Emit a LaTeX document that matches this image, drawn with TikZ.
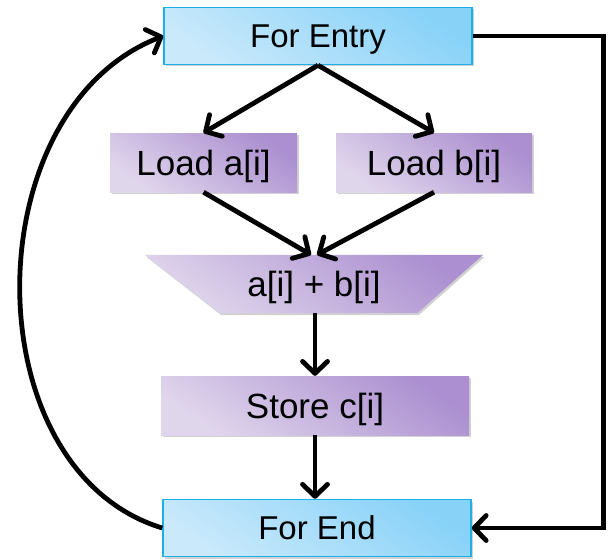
\documentclass[tikz,border=0pt]{standalone}
\usepackage{fontspec}
\setmainfont{Liberation Sans}
\usetikzlibrary{arrows.meta,shadows,backgrounds}

\definecolor{loopline}{HTML}{1CAFE8}
\definecolor{looplight}{HTML}{CAE9FB}
\definecolor{loopdark}{HTML}{88D2F8}
\definecolor{oplight}{HTML}{E0D6EC}
\definecolor{opdark}{HTML}{AB8FD0}

\begin{document}
\begin{tikzpicture}[
  x=1pt, y=-1pt,
  > = {Straight Barb[length=12pt,width=25pt,round]},
  every node/.style = {text depth=0pt, inner sep=0pt},
  soft shadow/.style = {drop shadow={shadow xshift=1.5pt,shadow yshift=-2pt,opacity=0.3,fill=black!60}},
  loopbox/.style = {draw=loopline, line width=1.5pt, top color=loopdark, bottom color=looplight, shading angle=-35, soft shadow,
    minimum width=308pt, minimum height=57pt, font=\fontsize{33}{36}\selectfont, text height=23.6pt},
  opbox/.style = {top color=opdark, bottom color=oplight, shading angle=-35, soft shadow, minimum height=59pt},
  optext/.style = {font=\fontsize{35}{38}\selectfont, text height=25pt},
  flow/.style = {->, line width=4.8pt}
  ]
	\useasboundingbox (0,0) rectangle (612,559);

	\node[loopbox] (entry) at (318,36) {For Entry};
	\node[opbox, optext, minimum width=187pt] (loada) at (203.5,162.5) {Load a[i]};
	\node[opbox, optext, minimum width=196pt] (loadb) at (434,162.5) {Load b[i]};
	\node[optext, minimum width=338pt, minimum height=58pt] (add) at (314,284) {a[i] + b[i]};
	\node[opbox, optext, minimum width=308pt] (store) at (315,405.5) {Store c[i]};
	\node[loopbox] (exit) at (317,528) {For End};

	\begin{pgfonlayer}{background}
		\shade[top color=opdark, bottom color=oplight, shading angle=-35, soft shadow]
		  (add.north west) -- (add.north east) -- ([xshift=-66pt]add.south east) -- ([xshift=75pt]add.south west) -- cycle;
	\end{pgfonlayer}

	\draw[flow] (entry.south) -- (loada.north);
	\draw[flow] (entry.south) -- (loadb.north);
	\draw[flow] (loada.south) -- ([xshift=-3pt]add.north);
	\draw[flow] (loadb.south) -- ([xshift=3pt]add.north);
	\draw[flow] (store.north |- add.south) -- (store.north);
	\draw[flow] (store.south) -- (store.south |- exit.north);

	\draw[flow] (entry.east) -- ++(131,0) |- (exit.east);
	\draw[flow] (exit.west) .. controls +(-190,-58) and +(-190,74) .. (entry.west);

\end{tikzpicture}
\end{document}
